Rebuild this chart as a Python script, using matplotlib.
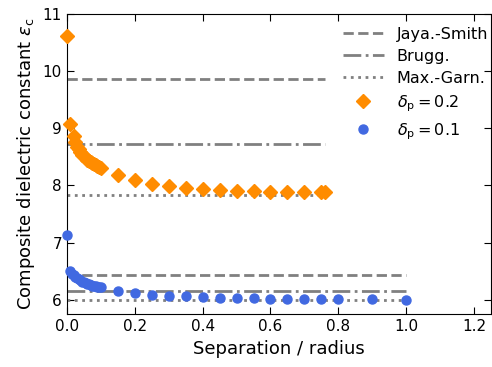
import matplotlib.pyplot as plt

# separation / radius
sep_02 = [0.0, 0.01, 0.02, 0.025, 0.03, 0.035, 0.04, 0.045, 0.05, 0.055,
          0.06, 0.065, 0.07, 0.075, 0.08, 0.085, 0.09, 0.095, 0.1,
          0.15, 0.2, 0.25, 0.3, 0.35, 0.4, 0.45, 0.5, 0.55, 0.6, 0.65, 0.7, 0.75, 0.76]
eps_02 = [10.62, 9.07, 8.86, 8.76, 8.68, 8.63, 8.58, 8.54, 8.51, 8.48,
          8.45, 8.43, 8.41, 8.39, 8.37, 8.35, 8.34, 8.32, 8.31,
          8.18, 8.10, 8.02, 7.99, 7.96, 7.94, 7.92, 7.91, 7.90, 7.89, 7.89, 7.88, 7.88, 7.88]

sep_01 = [0.0, 0.01, 0.015, 0.02, 0.025, 0.03, 0.035, 0.04, 0.045, 0.05, 0.055,
          0.06, 0.065, 0.07, 0.075, 0.08, 0.085, 0.09, 0.095, 0.1,
          0.15, 0.2, 0.25, 0.3, 0.35, 0.4, 0.45, 0.5, 0.55, 0.6, 0.65, 0.7, 0.75, 0.8,
          0.9, 1.0]
eps_01 = [7.13, 6.50, 6.46, 6.43, 6.40, 6.38, 6.36, 6.34, 6.32, 6.31, 6.29,
          6.28, 6.27, 6.26, 6.25, 6.24, 6.235, 6.23, 6.225, 6.22,
          6.15, 6.12, 6.09, 6.07, 6.06, 6.05, 6.04, 6.03, 6.03, 6.02, 6.02, 6.02, 6.01, 6.01,
          6.01, 6.00]

# effective medium approximations (value, x extent)
js = [9.86, 6.44]
brugg = [8.72, 6.16]
mg = [7.84, 6.00]
x_end = [0.76, 1.0]

fig = plt.figure(figsize=(4.92, 3.67), dpi=100)
ax = fig.add_axes([0.136, 0.144, 0.862, 0.818])

gray = "#808080"
for k in range(2):
    ax.plot([0, x_end[k]], [js[k], js[k]], color=gray, lw=2, ls="--",
            label="Jaya.-Smith" if k == 0 else None)
    ax.plot([0, x_end[k]], [brugg[k], brugg[k]], color=gray, lw=2, ls="-.",
            label="Brugg." if k == 0 else None)
    ax.plot([0, x_end[k]], [mg[k], mg[k]], color=gray, lw=2, ls=":",
            label="Max.-Garn." if k == 0 else None)

ax.plot(sep_02, eps_02, "D", color="darkorange", ms=7, ls="none",
        label=r"$\delta_\mathrm{p} = 0.2$", clip_on=False, zorder=3)
ax.plot(sep_01, eps_01, "o", color="royalblue", ms=6.5, ls="none",
        label=r"$\delta_\mathrm{p} = 0.1$", clip_on=False, zorder=3)

ax.set_xlim(0, 1.25)
ax.set_ylim(5.75, 11)
ax.set_xticks([0.0, 0.2, 0.4, 0.6, 0.8, 1.0, 1.2])
ax.set_yticks([6, 7, 8, 9, 10, 11])
ax.tick_params(direction="in", top=True, right=True, labelsize=11, length=5)
ax.set_xlabel("Separation / radius", fontsize=13)
ax.set_ylabel(r"Composite dielectric constant $\varepsilon_\mathrm{c}$", fontsize=13)
ax.legend(loc="upper right", bbox_to_anchor=(1.02, 0.995), frameon=False,
          fontsize=11.5, handlelength=2.6, borderaxespad=0.3, labelspacing=0.45)

plt.savefig("out.png", dpi=100)
